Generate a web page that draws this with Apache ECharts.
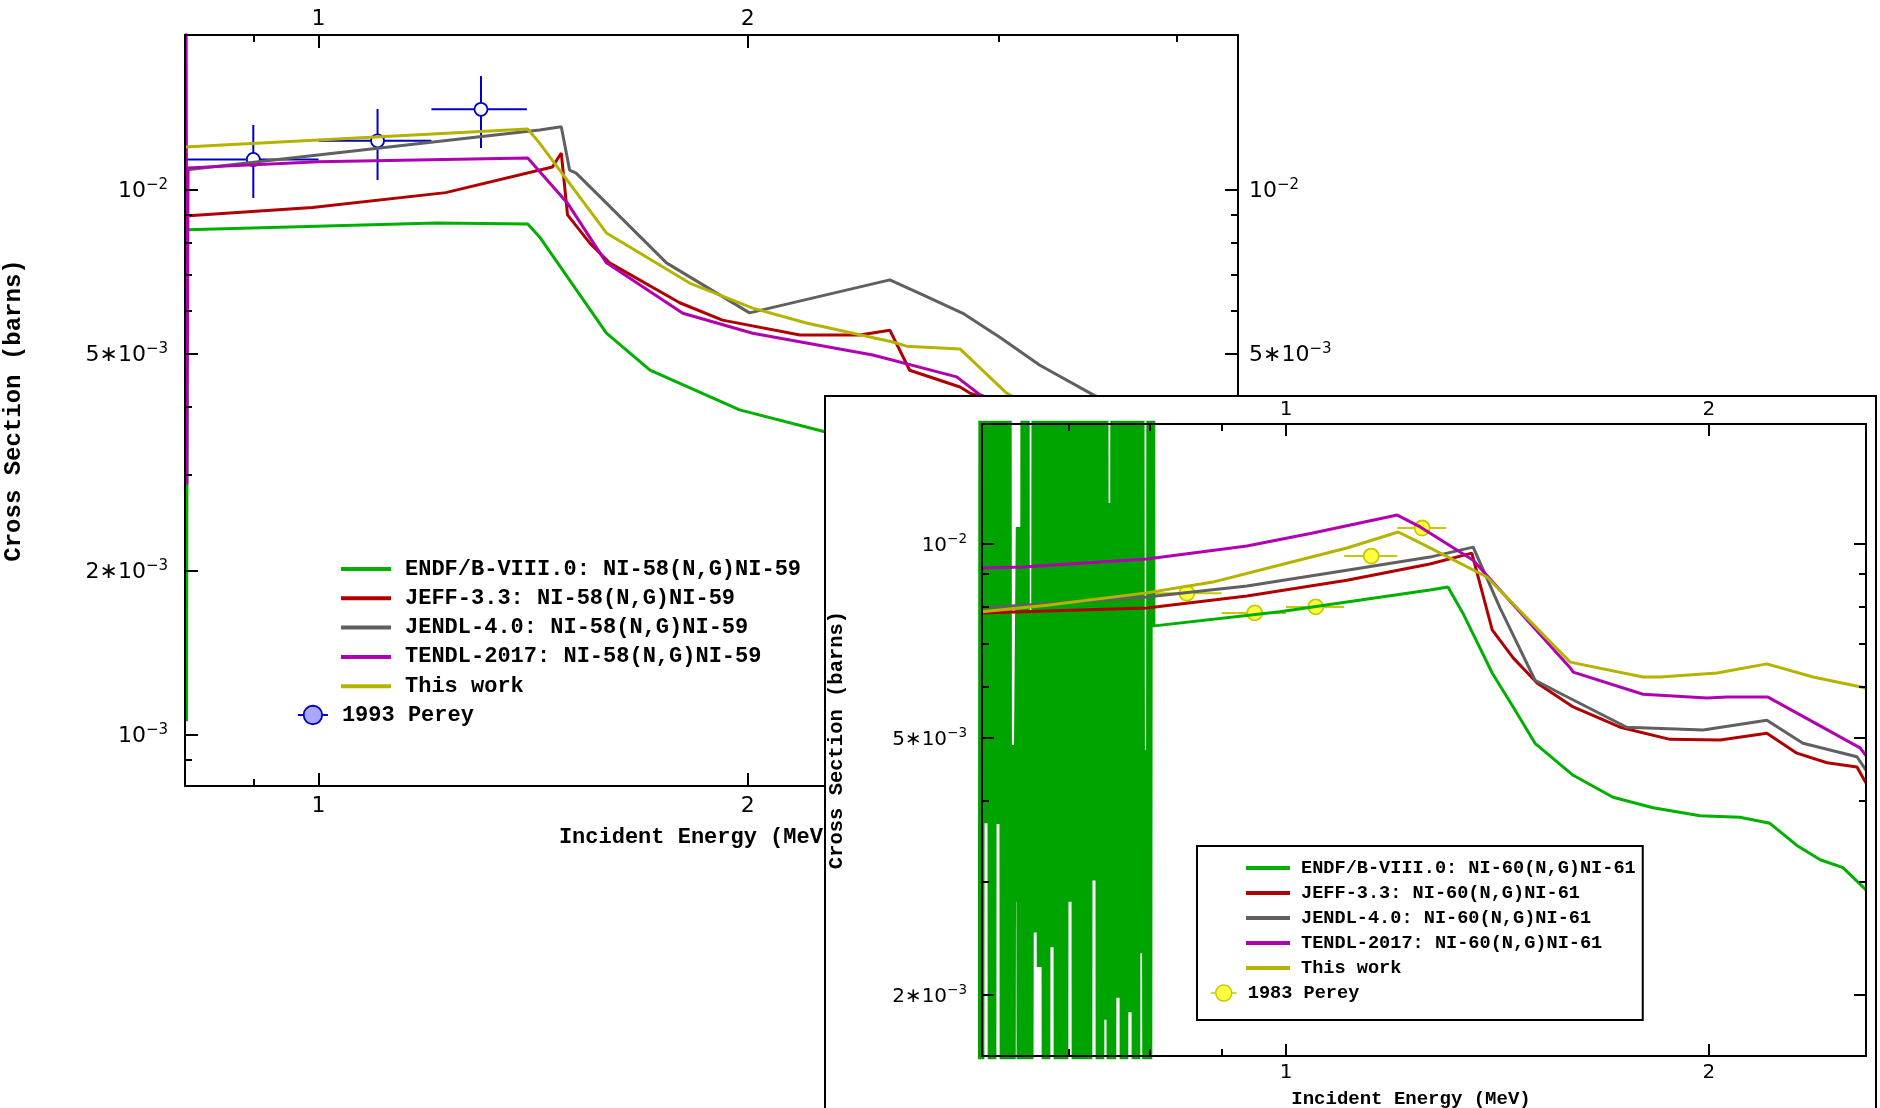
<!DOCTYPE html>
<html><head><meta charset="utf-8">
<script src="https://cdn.jsdelivr.net/npm/echarts@6/dist/echarts.min.js"></script>
<style>
html,body{margin:0;padding:0;background:#fff;overflow:hidden;width:1880px;height:1108px;}
#c1{position:absolute;left:0;top:0;width:1880px;height:1108px;}
#box2{position:absolute;left:824px;top:395px;width:1053px;height:760px;border:2px solid #000;box-sizing:border-box;background:#fff;overflow:hidden;}
#c2{position:absolute;left:0;top:0;width:1049px;height:756px;}
</style></head><body>
<div id="c1"></div><div id="box2"><div id="c2"></div></div>
<script>
// ---------------- Panel 1 : Ni-58(n,g) ----------------
const p1XMajor = [1, 2];
const p1XMinor = [0.9, 3, 4];
const p1YMajor = [1e-3, 2e-3, 5e-3, 1e-2];
const p1YMinor = [9e-4, 3e-3, 4e-3, 6e-3, 7e-3, 8e-3, 9e-3];
const xTickLabels = {1: '1', 2: '2'};
const yTickText = [[1e-3, '10', '−3'], [2e-3, '2∗10', '−3'], [5e-3, '5∗10', '−3'], [1e-2, '10', '−2']];

const ni58Endf = [[0.8080,1.06e-3],[0.8090,8.45e-3],[1.210,8.70e-3],[1.402,8.66e-3],[1.429,8.20e-3],[1.592,5.46e-3],[1.708,4.67e-3],[1.974,3.95e-3],[2.265,3.60e-3],[3.0,3.0e-3],[4.415,2.4e-3]];
const ni58Jeff = [[0.806,8.96e-3],[0.99,9.29e-3],[1.228,9.89e-3],[1.459,1.102e-2],[1.480,1.169e-2],[1.495,9.00e-3],[1.550,7.99e-3],[1.600,7.35e-3],[1.792,6.21e-3],[1.920,5.77e-3],[2.176,5.42e-3],[2.397,5.42e-3],[2.516,5.53e-3],[2.598,4.67e-3],[2.818,4.35e-3],[2.863,4.24e-3],[3.2,3.9e-3],[4.415,3.2e-3]];
const ni58Jendl = [[0.806,1.088e-2],[1.429,1.289e-2],[1.480,1.306e-2],[1.500,1.088e-2],[1.516,1.074e-2],[1.592,9.46e-3],[1.754,7.35e-3],[2.006,5.95e-3],[2.516,6.84e-3],[2.654,6.42e-3],[2.831,5.94e-3],[3.005,5.37e-3],[3.206,4.77e-3],[3.5,4.2e-3],[4.415,3.4e-3]];
const ni58Tendl = [[0.8070,5e-2],[0.8085,2.88e-3],[0.8100,1.098e-2],[1.0,1.127e-2],[1.402,1.145e-2],[1.495,9.46e-3],[1.592,7.35e-3],[1.801,5.94e-3],[2.016,5.46e-3],[2.448,4.98e-3],[2.803,4.54e-3],[2.910,4.21e-3],[3.3,3.7e-3],[4.415,3.0e-3]];
const ni58ThisWork = [[0.806,1.199e-2],[1.402,1.294e-2],[1.429,1.219e-2],[1.592,8.34e-3],[1.821,6.75e-3],[2.016,6.07e-3],[2.199,5.70e-3],[2.528,5.26e-3],[2.584,5.17e-3],[2.818,5.11e-3],[3.038,4.24e-3],[3.4,3.6e-3],[4.415,2.9e-3]];

const perey93E = [0.9, 1.1, 1.3];
const perey93Sig = [1.138e-2, 1.231e-2, 1.406e-2];
const perey93Elo = [0.8, 1.0, 1.2];
const perey93Ehi = [1.0, 1.2, 1.4];
const perey93SigLo = [9.67e-3, 1.043e-2, 1.194e-2];
const perey93SigHi = [1.316e-2, 1.408e-2, 1.618e-2];

// ---------------- Panel 2 : Ni-60(n,g) ----------------
const p2XMajor = [1, 2];
const p2XMinor = [0.7, 0.8, 0.9];
const p2YMajor = [2e-3, 5e-3, 1e-2];
const p2YMinor = [3e-3, 4e-3, 6e-3, 7e-3, 8e-3, 9e-3];

// ENDF resolved-resonance region (dense peaks/valleys)
const ni60EndfResE = [0.6056,0.6086,0.6116,0.6146,0.6177,0.6207,0.6238,0.6268,0.6299,0.6330,0.6362,0.6393,0.6424,0.6456,0.6488,0.6520,0.6552,0.6584,0.6617,0.6649,0.6682,0.6715,0.6748,0.6781,0.6815,0.6848,0.6882,0.6916,0.6950,0.6984,0.7019,0.7053,0.7088,0.7123,0.7158,0.7193,0.7229,0.7264,0.7300,0.7336,0.7372,0.7408,0.7445,0.7482,0.7518,0.7555,0.7593,0.7630,0.7668,0.7705,0.7743,0.7781,0.7820,0.7858,0.7897,0.7936,0.7975,0.8015,0.8030];
const ni60EndfResSig = [1e-5,10,3.69e-3,10,1e-5,10,3.68e-3,10,1e-5,10,1e-5,4.88e-3,2.79e-3,1.063e-2,1e-5,10,1e-5,7.9e-3,2.50e-3,10,2.21e-3,10,1e-5,10,2.37e-3,10,1e-5,10,1e-5,10,2.79e-3,10,1e-5,10,1e-5,10,1e-5,10,3.01e-3,10,1e-5,10,1.83e-3,1.158e-2,1e-5,10,1.98e-3,10,1e-5,10,1.88e-3,10,1e-5,10,2.32e-3,4.8e-3,1e-5,10,7.46e-3];
const ni60Endf = [[0.803,7.46e-3],[0.990,7.85e-3],[1.105,8.13e-3],[1.266,8.49e-3],[1.304,8.58e-3],[1.336,7.82e-3],[1.402,6.31e-3],[1.451,5.59e-3],[1.504,4.91e-3],[1.601,4.38e-3],[1.709,4.05e-3],[1.825,3.90e-3],[1.971,3.79e-3],[2.104,3.77e-3],[2.210,3.69e-3],[2.310,3.41e-3],[2.400,3.24e-3],[2.491,3.15e-3],[2.587,2.91e-3]];
const ni60Jeff = [[0.6076,7.82e-3],[0.796,7.96e-3],[0.938,8.31e-3],[1.105,8.79e-3],[1.266,9.31e-3],[1.356,9.68e-3],[1.402,7.36e-3],[1.451,6.66e-3],[1.509,6.09e-3],[1.601,5.59e-3],[1.729,5.20e-3],[1.876,4.98e-3],[2.037,4.97e-3],[2.199,5.09e-3],[2.310,4.74e-3],[2.427,4.58e-3],[2.549,4.51e-3],[2.587,4.26e-3]];
const ni60Jendl = [[0.6076,7.96e-3],[0.796,8.28e-3],[0.938,8.61e-3],[1.105,9.11e-3],[1.266,9.545e-3],[1.359,9.89e-3],[1.420,7.96e-3],[1.504,6.15e-3],[1.567,5.87e-3],[1.748,5.20e-3],[1.981,5.15e-3],[2.199,5.33e-3],[2.333,4.91e-3],[2.549,4.68e-3],[2.587,4.46e-3]];
const ni60Tendl = [[0.6076,9.18e-3],[0.650,9.21e-3],[0.796,9.48e-3],[0.938,9.93e-3],[1.045,1.040e-2],[1.200,1.109e-2],[1.246,1.063e-2],[1.359,9.44e-3],[1.593,6.43e-3],[1.601,6.33e-3],[1.795,5.85e-3],[1.898,5.81e-3],[1.994,5.77e-3],[2.060,5.79e-3],[2.203,5.79e-3],[2.562,4.83e-3],[2.587,4.70e-3]];
const ni60ThisWork = [[0.6076,7.85e-3],[0.676,8.04e-3],[0.796,8.40e-3],[0.887,8.73e-3],[0.990,9.28e-3],[1.105,9.86e-3],[1.202,1.044e-2],[1.246,1.004e-2],[1.390,8.89e-3],[1.593,6.56e-3],[1.795,6.22e-3],[1.846,6.22e-3],[2.027,6.31e-3],[2.199,6.52e-3],[2.372,6.22e-3],[2.587,5.98e-3]];

const perey83E = [0.85, 0.95, 1.05, 1.15, 1.25];
const perey83Sig = [8.39e-3, 7.82e-3, 7.99e-3, 9.58e-3, 1.059e-2];
const perey83Elo = [0.8, 0.9, 1.0, 1.1, 1.2];
const perey83Ehi = [0.9, 1.0, 1.1, 1.2, 1.3];

// ---------------- styling ----------------
const C = {endf:'#00b000', endfBand:'#00a400', jeff:'#b00000', jendl:'#606060', tendl:'#b000b0', mine:'#b4b400',
           p93:'#0000c0', p93fill:'#a8a8ff', p83:'#c8c800', p83fill:'#ffff40'};
const AX = {color:'#000', width:2};

function fmtX(v){ const k = Math.round(v); return Math.abs(v-k) < 1e-6 && xTickLabels[k] ? xTickLabels[k] : ''; }
function fmtY(v){ for (const t of yTickText) if (Math.abs(v/t[0] - 1) < 1e-4) return '{b|' + t[1] + '}{s|' + t[2] + '}'; return ''; }

function tickAx(position, min, max, vals, len, lbl, lineShow){
  return {type:'log', logBase:10, min:min, max:max, position:position, gridIndex:0, z:5,
    axisLine:{show:lineShow, onZero:false, lineStyle:AX},
    axisTick:{show:true, inside:true, length:len, customValues:vals, lineStyle:AX},
    axisLabel: lbl ? Object.assign({show:true, customValues:vals}, lbl) : {show:false},
    splitLine:{show:false}, minorTick:{show:false}, minorSplitLine:{show:false}, silent:true};
}
function yLbl(margin, big, small){
  return {margin:margin, formatter:fmtY, color:'#000', fontFamily:'DejaVu Sans', fontSize:big,
    rich:{b:{fontFamily:'DejaVu Sans', fontSize:big, lineHeight:big+3, verticalAlign:'bottom', color:'#000'},
          s:{fontFamily:'DejaVu Sans', fontSize:small, lineHeight:small, verticalAlign:'top', color:'#000'}}};
}
function xLbl(margin, fs){ return {margin:margin, formatter:fmtX, fontFamily:'DejaVu Sans', fontSize:fs, color:'#000'}; }

function lineSeries(name, data, color, width){
  return {type:'line', name:name, data:data, xAxisIndex:0, yAxisIndex:0, symbol:'none', showSymbol:false,
    lineStyle:{color:color, width:width||3}, itemStyle:{color:color}, clip:true, silent:true,
    emphasis:{disabled:true}, animation:false};
}

function errSeries(name, rows, col, fill, itemStyle, r){
  return {type:'custom', name:name, xAxisIndex:0, yAxisIndex:0, clip:true, silent:true,
    itemStyle:itemStyle, encode:{x:0, y:1}, data:rows,
    renderItem:function(params, api){
      const e = api.value(0), s = api.value(1);
      const c = api.coord([e, s]);
      const l = api.coord([api.value(2), s]), rr = api.coord([api.value(3), s]);
      const t = api.coord([e, api.value(5)]), b = api.coord([e, api.value(4)]);
      return {type:'group', children:[
        {type:'line', shape:{x1:l[0], y1:l[1], x2:rr[0], y2:rr[1]}, style:{stroke:col, lineWidth:2}},
        {type:'line', shape:{x1:t[0], y1:t[1], x2:b[0], y2:b[1]}, style:{stroke:col, lineWidth:2}},
        {type:'circle', shape:{cx:c[0], cy:c[1], r:r}, style:{fill:fill, stroke:col, lineWidth:1.8}}
      ]};
    }};
}

const markerIcon = 'path://M0,11 L5,11 M21,11 L26,11 M5,11 A8,8 0 1,1 21,11 A8,8 0 1,1 5,11 Z';
const legendFont = (fs, lh, pad) => ({fontFamily:'Liberation Mono', fontWeight:'bold', fontSize:fs, lineHeight:lh, color:'#000', padding:[0,0,0,pad]});

// ---------------- Chart 1 ----------------
const P1 = {xMin:0.806, xMax:4.415, yMin:8.06e-4, yMax:1.925e-2};
const names58 = ['ENDF/B-VIII.0: NI-58(N,G)NI-59','JEFF-3.3: NI-58(N,G)NI-59','JENDL-4.0: NI-58(N,G)NI-59','TENDL-2017: NI-58(N,G)NI-59','This work'];

const x1 = [
  Object.assign(tickAx('bottom', P1.xMin, P1.xMax, p1XMajor, 13, xLbl(9, 22), true),
    {name:'Incident Energy (MeV)', nameLocation:'middle', nameGap:40,
     nameTextStyle:{fontFamily:'Liberation Mono', fontWeight:'bold', fontSize:22, color:'#000', padding:[0,28,0,0]}}),
  tickAx('bottom', P1.xMin, P1.xMax, p1XMinor, 7, null, false),
  tickAx('top', P1.xMin, P1.xMax, p1XMajor, 13, xLbl(5, 22), true),
  tickAx('top', P1.xMin, P1.xMax, p1XMinor, 7, null, false)
];
const y1 = [
  Object.assign(tickAx('left', P1.yMin, P1.yMax, p1YMajor, 13, yLbl(17, 22, 15), true),
    {name:'Cross Section (barns)', nameLocation:'middle', nameGap:159,
     nameTextStyle:{fontFamily:'Liberation Mono', fontWeight:'bold', fontSize:24, color:'#000'}}),
  tickAx('left', P1.yMin, P1.yMax, p1YMinor, 7, null, false),
  tickAx('right', P1.yMin, P1.yMax, p1YMajor, 13, yLbl(11, 22, 15), true),
  tickAx('right', P1.yMin, P1.yMax, p1YMinor, 7, null, false)
];

const chart1 = echarts.init(document.getElementById('c1'), null, {renderer:'canvas'});
chart1.setOption({
  animation:false, backgroundColor:'#fff',
  grid:{left:185, top:35, width:1053, height:751, containLabel:false, outerBoundsMode:'none'},
  xAxis:x1, yAxis:y1,
  legend:[
    {orient:'vertical', left:341, top:558, icon:'rect', itemWidth:50, itemHeight:4, itemGap:7.3, padding:0,
     selectedMode:false, data:names58, itemStyle:{borderWidth:0}, textStyle:legendFont(22, 22, 9)},
    {orient:'vertical', left:297, top:704, itemWidth:30, itemHeight:22, padding:0, selectedMode:false,
     data:[{name:'1993 Perey', icon:markerIcon}],
     itemStyle:{color:C.p93fill, borderColor:C.p93, borderWidth:1.8}, textStyle:legendFont(22, 22, 9)}
  ],
  series:[
    errSeries('1993 Perey', perey93E.map((e,i)=>[e, perey93Sig[i], perey93Elo[i], perey93Ehi[i], perey93SigLo[i], perey93SigHi[i]]),
      C.p93, '#fff', {color:C.p93fill, borderColor:C.p93, borderWidth:1.8}, 6.5),
    lineSeries(names58[0], ni58Endf, C.endf),
    lineSeries(names58[1], ni58Jeff, C.jeff),
    lineSeries(names58[2], ni58Jendl, C.jendl),
    lineSeries(names58[3], ni58Tendl, C.tendl),
    lineSeries(names58[4], ni58ThisWork, C.mine)
  ]
});

// ---------------- Chart 2 ----------------
const P2 = {xMin:0.6076, xMax:2.587, yMin:1.608e-3, yMax:1.535e-2};
const names60 = ['ENDF/B-VIII.0: NI-60(N,G)NI-61','JEFF-3.3: NI-60(N,G)NI-61','JENDL-4.0: NI-60(N,G)NI-61','TENDL-2017: NI-60(N,G)NI-61','This work'];

const x2 = [
  Object.assign(tickAx('bottom', P2.xMin, P2.xMax, p2XMajor, 12, xLbl(7, 20), true),
    {name:'Incident Energy (MeV)', nameLocation:'middle', nameGap:34,
     nameTextStyle:{fontFamily:'Liberation Mono', fontWeight:'bold', fontSize:19, color:'#000', padding:[0,26,0,0]}}),
  tickAx('bottom', P2.xMin, P2.xMax, p2XMinor, 7, null, false),
  tickAx('top', P2.xMin, P2.xMax, p2XMajor, 12, xLbl(4, 20), true),
  tickAx('top', P2.xMin, P2.xMax, p2XMinor, 7, null, false)
];
const y2 = [
  Object.assign(tickAx('left', P2.yMin, P2.yMax, p2YMajor, 12, yLbl(15, 20, 13.5), true),
    {name:'Cross Section (barns)', nameLocation:'middle', nameGap:135,
     nameTextStyle:{fontFamily:'Liberation Mono', fontWeight:'bold', fontSize:20.5, color:'#000'}}),
  tickAx('left', P2.yMin, P2.yMax, p2YMinor, 7, null, false),
  tickAx('right', P2.yMin, P2.yMax, p2YMajor, 12, null, true),
  tickAx('right', P2.yMin, P2.yMax, p2YMinor, 7, null, false)
];

const chart2 = echarts.init(document.getElementById('c2'), null, {renderer:'canvas'});
chart2.setOption({
  animation:false, backgroundColor:'#fff',
  grid:{left:156, top:27, width:884, height:632, containLabel:false, outerBoundsMode:'none'},
  xAxis:x2, yAxis:y2,
  legend:[
    {orient:'vertical', left:371, top:449, icon:'rect', itemWidth:44, itemHeight:4, itemGap:5,
     padding:[12, 7, 42, 49], borderColor:'#000', borderWidth:2, backgroundColor:'#fff',
     selectedMode:false, data:names60, itemStyle:{borderWidth:0}, textStyle:legendFont(18.6, 20, 6)},
    {orient:'vertical', left:384, top:586, itemWidth:26, itemHeight:20, padding:0, selectedMode:false, z:10,
     data:[{name:'1983 Perey', icon:markerIcon}],
     itemStyle:{color:C.p83fill, borderColor:C.p83, borderWidth:1.5}, textStyle:legendFont(18.6, 20, 6)}
  ],
  series:[
    lineSeries(names60[0], ni60Endf, C.endf),
    lineSeries(names60[0], ni60EndfResE.map((e,i)=>[e, ni60EndfResSig[i]]), C.endfBand, 6.5),
    lineSeries(names60[1], ni60Jeff, C.jeff),
    lineSeries(names60[2], ni60Jendl, C.jendl),
    lineSeries(names60[3], ni60Tendl, C.tendl),
    lineSeries(names60[4], ni60ThisWork, C.mine),
    errSeries('1983 Perey', perey83E.map((e,i)=>[e, perey83Sig[i], perey83Elo[i], perey83Ehi[i], perey83Sig[i], perey83Sig[i]]),
      C.p83, C.p83fill, {color:C.p83fill, borderColor:C.p83, borderWidth:1.5}, 7.5)
  ]
});
</script></body></html>
